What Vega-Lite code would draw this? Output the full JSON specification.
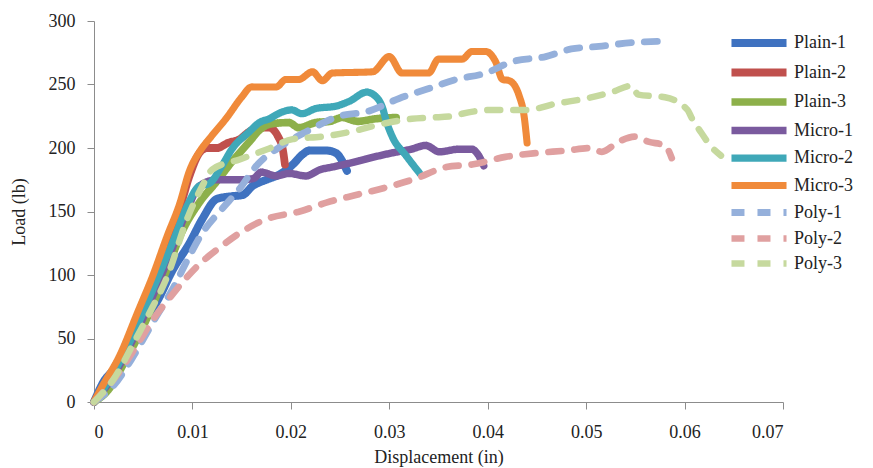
{
  "$schema": "https://vega.github.io/schema/vega-lite/v6.json",
  "autosize": "none",
  "width": 689,
  "height": 381,
  "padding": {"left": 94, "top": 21, "right": 90, "bottom": 66},
  "background": "white",
  "config": {
    "font": "Liberation Serif",
    "view": {"stroke": null},
    "axis": {
      "grid": false,
      "domainColor": "#8c8c8c",
      "tickColor": "#8c8c8c",
      "tickSize": 7,
      "labelFont": "Liberation Serif",
      "labelFontSize": 18,
      "labelColor": "#222222",
      "titleFont": "Liberation Serif",
      "titleFontSize": 18,
      "titleFontWeight": "normal",
      "titleColor": "#222222"
    },
    "legend": {
      "labelFont": "Liberation Serif",
      "labelFontSize": 18,
      "labelColor": "#222222"
    }
  },
  "data": {
    "values": [
      {"s": "Plain-1", "x": 0, "y": 0},
      {"s": "Plain-1", "x": 0.0009, "y": 15},
      {"s": "Plain-1", "x": 0.0023, "y": 29},
      {"s": "Plain-1", "x": 0.0033, "y": 45},
      {"s": "Plain-1", "x": 0.0044, "y": 57},
      {"s": "Plain-1", "x": 0.0064, "y": 79},
      {"s": "Plain-1", "x": 0.008, "y": 104},
      {"s": "Plain-1", "x": 0.0097, "y": 125},
      {"s": "Plain-1", "x": 0.011, "y": 144},
      {"s": "Plain-1", "x": 0.0125, "y": 160},
      {"s": "Plain-1", "x": 0.014, "y": 162},
      {"s": "Plain-1", "x": 0.0151, "y": 163},
      {"s": "Plain-1", "x": 0.0161, "y": 170},
      {"s": "Plain-1", "x": 0.0175, "y": 175},
      {"s": "Plain-1", "x": 0.0188, "y": 179},
      {"s": "Plain-1", "x": 0.0202, "y": 187},
      {"s": "Plain-1", "x": 0.0212, "y": 195},
      {"s": "Plain-1", "x": 0.0219, "y": 198},
      {"s": "Plain-1", "x": 0.0236, "y": 198},
      {"s": "Plain-1", "x": 0.0246, "y": 196},
      {"s": "Plain-1", "x": 0.0252, "y": 190},
      {"s": "Plain-1", "x": 0.0257, "y": 182},

      {"s": "Plain-2", "x": 0, "y": 0},
      {"s": "Plain-2", "x": 0.0006, "y": 8},
      {"s": "Plain-2", "x": 0.0027, "y": 36},
      {"s": "Plain-2", "x": 0.0044, "y": 66},
      {"s": "Plain-2", "x": 0.006, "y": 96},
      {"s": "Plain-2", "x": 0.0074, "y": 126},
      {"s": "Plain-2", "x": 0.0087, "y": 152},
      {"s": "Plain-2", "x": 0.0097, "y": 178},
      {"s": "Plain-2", "x": 0.0108, "y": 197},
      {"s": "Plain-2", "x": 0.0115, "y": 200},
      {"s": "Plain-2", "x": 0.0125, "y": 200},
      {"s": "Plain-2", "x": 0.0136, "y": 204},
      {"s": "Plain-2", "x": 0.0148, "y": 207},
      {"s": "Plain-2", "x": 0.0158, "y": 213},
      {"s": "Plain-2", "x": 0.0168, "y": 216},
      {"s": "Plain-2", "x": 0.0178, "y": 216},
      {"s": "Plain-2", "x": 0.0187, "y": 209},
      {"s": "Plain-2", "x": 0.0192, "y": 198},
      {"s": "Plain-2", "x": 0.0194, "y": 187},

      {"s": "Plain-3", "x": 0, "y": 0},
      {"s": "Plain-3", "x": 0.0015, "y": 10},
      {"s": "Plain-3", "x": 0.003, "y": 30},
      {"s": "Plain-3", "x": 0.0055, "y": 68},
      {"s": "Plain-3", "x": 0.0075, "y": 106},
      {"s": "Plain-3", "x": 0.009, "y": 135},
      {"s": "Plain-3", "x": 0.0107, "y": 157},
      {"s": "Plain-3", "x": 0.0124, "y": 173},
      {"s": "Plain-3", "x": 0.014, "y": 189},
      {"s": "Plain-3", "x": 0.0158, "y": 205},
      {"s": "Plain-3", "x": 0.0168, "y": 214},
      {"s": "Plain-3", "x": 0.018, "y": 219},
      {"s": "Plain-3", "x": 0.0198, "y": 220},
      {"s": "Plain-3", "x": 0.0208, "y": 216},
      {"s": "Plain-3", "x": 0.0225, "y": 220},
      {"s": "Plain-3", "x": 0.024, "y": 221},
      {"s": "Plain-3", "x": 0.0252, "y": 224},
      {"s": "Plain-3", "x": 0.0268, "y": 221},
      {"s": "Plain-3", "x": 0.0286, "y": 223},
      {"s": "Plain-3", "x": 0.0307, "y": 224},

      {"s": "Micro-1", "x": 0, "y": 0},
      {"s": "Micro-1", "x": 0.002, "y": 21},
      {"s": "Micro-1", "x": 0.004, "y": 50},
      {"s": "Micro-1", "x": 0.006, "y": 84},
      {"s": "Micro-1", "x": 0.008, "y": 122},
      {"s": "Micro-1", "x": 0.0095, "y": 152},
      {"s": "Micro-1", "x": 0.0107, "y": 170},
      {"s": "Micro-1", "x": 0.0125, "y": 175},
      {"s": "Micro-1", "x": 0.015, "y": 175},
      {"s": "Micro-1", "x": 0.0162, "y": 176},
      {"s": "Micro-1", "x": 0.017, "y": 181},
      {"s": "Micro-1", "x": 0.0185, "y": 178},
      {"s": "Micro-1", "x": 0.0198, "y": 180},
      {"s": "Micro-1", "x": 0.0215, "y": 178},
      {"s": "Micro-1", "x": 0.023, "y": 183},
      {"s": "Micro-1", "x": 0.0242, "y": 185},
      {"s": "Micro-1", "x": 0.027, "y": 190},
      {"s": "Micro-1", "x": 0.0285, "y": 193},
      {"s": "Micro-1", "x": 0.0302, "y": 196},
      {"s": "Micro-1", "x": 0.0322, "y": 199},
      {"s": "Micro-1", "x": 0.0337, "y": 202},
      {"s": "Micro-1", "x": 0.0351, "y": 197},
      {"s": "Micro-1", "x": 0.037, "y": 199},
      {"s": "Micro-1", "x": 0.0384, "y": 199},
      {"s": "Micro-1", "x": 0.039, "y": 195},
      {"s": "Micro-1", "x": 0.0396, "y": 186},

      {"s": "Micro-2", "x": 0, "y": 0},
      {"s": "Micro-2", "x": 0.002, "y": 23},
      {"s": "Micro-2", "x": 0.004, "y": 53},
      {"s": "Micro-2", "x": 0.006, "y": 89},
      {"s": "Micro-2", "x": 0.008, "y": 126},
      {"s": "Micro-2", "x": 0.0095, "y": 155},
      {"s": "Micro-2", "x": 0.0107, "y": 170},
      {"s": "Micro-2", "x": 0.0117, "y": 172},
      {"s": "Micro-2", "x": 0.013, "y": 186},
      {"s": "Micro-2", "x": 0.014, "y": 199},
      {"s": "Micro-2", "x": 0.0158, "y": 213},
      {"s": "Micro-2", "x": 0.0168, "y": 220},
      {"s": "Micro-2", "x": 0.0178, "y": 223},
      {"s": "Micro-2", "x": 0.019, "y": 228},
      {"s": "Micro-2", "x": 0.0201, "y": 230},
      {"s": "Micro-2", "x": 0.0211, "y": 227},
      {"s": "Micro-2", "x": 0.0225, "y": 231},
      {"s": "Micro-2", "x": 0.0246, "y": 233},
      {"s": "Micro-2", "x": 0.026, "y": 237},
      {"s": "Micro-2", "x": 0.0277, "y": 244},
      {"s": "Micro-2", "x": 0.0287, "y": 240},
      {"s": "Micro-2", "x": 0.0293, "y": 232},
      {"s": "Micro-2", "x": 0.0297, "y": 221},
      {"s": "Micro-2", "x": 0.0303, "y": 209},
      {"s": "Micro-2", "x": 0.0317, "y": 194},
      {"s": "Micro-2", "x": 0.0331, "y": 180},

      {"s": "Micro-3", "x": 0, "y": 0},
      {"s": "Micro-3", "x": 0.0006, "y": 9},
      {"s": "Micro-3", "x": 0.0027, "y": 38},
      {"s": "Micro-3", "x": 0.0044, "y": 70},
      {"s": "Micro-3", "x": 0.006, "y": 100},
      {"s": "Micro-3", "x": 0.0074, "y": 130},
      {"s": "Micro-3", "x": 0.0087, "y": 156},
      {"s": "Micro-3", "x": 0.0097, "y": 182},
      {"s": "Micro-3", "x": 0.0108, "y": 198},
      {"s": "Micro-3", "x": 0.0118, "y": 208},
      {"s": "Micro-3", "x": 0.0135, "y": 224},
      {"s": "Micro-3", "x": 0.015, "y": 240},
      {"s": "Micro-3", "x": 0.016, "y": 248},
      {"s": "Micro-3", "x": 0.0185, "y": 248},
      {"s": "Micro-3", "x": 0.0195, "y": 254},
      {"s": "Micro-3", "x": 0.0208, "y": 254},
      {"s": "Micro-3", "x": 0.0222, "y": 260},
      {"s": "Micro-3", "x": 0.0232, "y": 253},
      {"s": "Micro-3", "x": 0.0242, "y": 259},
      {"s": "Micro-3", "x": 0.0283, "y": 260},
      {"s": "Micro-3", "x": 0.03, "y": 272},
      {"s": "Micro-3", "x": 0.0313, "y": 259},
      {"s": "Micro-3", "x": 0.034, "y": 259},
      {"s": "Micro-3", "x": 0.035, "y": 270},
      {"s": "Micro-3", "x": 0.0374, "y": 270},
      {"s": "Micro-3", "x": 0.0384, "y": 276},
      {"s": "Micro-3", "x": 0.0398, "y": 276},
      {"s": "Micro-3", "x": 0.0408, "y": 268},
      {"s": "Micro-3", "x": 0.0415, "y": 254},
      {"s": "Micro-3", "x": 0.0422, "y": 253},
      {"s": "Micro-3", "x": 0.0432, "y": 241},
      {"s": "Micro-3", "x": 0.0437, "y": 225},
      {"s": "Micro-3", "x": 0.044, "y": 204},

      {"s": "Poly-1", "x": 0, "y": 0},
      {"s": "Poly-1", "x": 0.002, "y": 13},
      {"s": "Poly-1", "x": 0.004, "y": 36},
      {"s": "Poly-1", "x": 0.006, "y": 63},
      {"s": "Poly-1", "x": 0.008, "y": 89},
      {"s": "Poly-1", "x": 0.0095, "y": 112},
      {"s": "Poly-1", "x": 0.011, "y": 133},
      {"s": "Poly-1", "x": 0.013, "y": 152},
      {"s": "Poly-1", "x": 0.0148, "y": 168},
      {"s": "Poly-1", "x": 0.0165, "y": 186},
      {"s": "Poly-1", "x": 0.0191, "y": 202},
      {"s": "Poly-1", "x": 0.0216, "y": 213},
      {"s": "Poly-1", "x": 0.0249, "y": 225},
      {"s": "Poly-1", "x": 0.0279, "y": 229},
      {"s": "Poly-1", "x": 0.031, "y": 239},
      {"s": "Poly-1", "x": 0.0337, "y": 246},
      {"s": "Poly-1", "x": 0.0368, "y": 254},
      {"s": "Poly-1", "x": 0.0398, "y": 259},
      {"s": "Poly-1", "x": 0.0425, "y": 268},
      {"s": "Poly-1", "x": 0.0459, "y": 272},
      {"s": "Poly-1", "x": 0.0485, "y": 278},
      {"s": "Poly-1", "x": 0.0513, "y": 280},
      {"s": "Poly-1", "x": 0.0546, "y": 283},
      {"s": "Poly-1", "x": 0.0575, "y": 284},

      {"s": "Poly-2", "x": 0, "y": 0},
      {"s": "Poly-2", "x": 0.0006, "y": 5},
      {"s": "Poly-2", "x": 0.0026, "y": 24},
      {"s": "Poly-2", "x": 0.0043, "y": 44},
      {"s": "Poly-2", "x": 0.006, "y": 65},
      {"s": "Poly-2", "x": 0.008, "y": 85},
      {"s": "Poly-2", "x": 0.0105, "y": 107},
      {"s": "Poly-2", "x": 0.0125, "y": 120},
      {"s": "Poly-2", "x": 0.015, "y": 134},
      {"s": "Poly-2", "x": 0.0175, "y": 144},
      {"s": "Poly-2", "x": 0.0209, "y": 150},
      {"s": "Poly-2", "x": 0.0236, "y": 157},
      {"s": "Poly-2", "x": 0.0266, "y": 163},
      {"s": "Poly-2", "x": 0.0297, "y": 169},
      {"s": "Poly-2", "x": 0.0327, "y": 176},
      {"s": "Poly-2", "x": 0.0358, "y": 185},
      {"s": "Poly-2", "x": 0.0384, "y": 187},
      {"s": "Poly-2", "x": 0.0418, "y": 193},
      {"s": "Poly-2", "x": 0.0449, "y": 196},
      {"s": "Poly-2", "x": 0.048, "y": 198},
      {"s": "Poly-2", "x": 0.0505, "y": 200},
      {"s": "Poly-2", "x": 0.0516, "y": 197},
      {"s": "Poly-2", "x": 0.0533, "y": 205},
      {"s": "Poly-2", "x": 0.055, "y": 209},
      {"s": "Poly-2", "x": 0.0563, "y": 205},
      {"s": "Poly-2", "x": 0.058, "y": 202},
      {"s": "Poly-2", "x": 0.0587, "y": 192},

      {"s": "Poly-3", "x": 0, "y": 0},
      {"s": "Poly-3", "x": 0.002, "y": 18},
      {"s": "Poly-3", "x": 0.004, "y": 46},
      {"s": "Poly-3", "x": 0.0055, "y": 68},
      {"s": "Poly-3", "x": 0.0075, "y": 100},
      {"s": "Poly-3", "x": 0.0095, "y": 145},
      {"s": "Poly-3", "x": 0.011, "y": 170},
      {"s": "Poly-3", "x": 0.012, "y": 183},
      {"s": "Poly-3", "x": 0.0148, "y": 191},
      {"s": "Poly-3", "x": 0.0176, "y": 199},
      {"s": "Poly-3", "x": 0.0202, "y": 207},
      {"s": "Poly-3", "x": 0.0232, "y": 209},
      {"s": "Poly-3", "x": 0.0262, "y": 213},
      {"s": "Poly-3", "x": 0.0293, "y": 219},
      {"s": "Poly-3", "x": 0.0323, "y": 223},
      {"s": "Poly-3", "x": 0.0343, "y": 224},
      {"s": "Poly-3", "x": 0.0364, "y": 225},
      {"s": "Poly-3", "x": 0.0374, "y": 227},
      {"s": "Poly-3", "x": 0.0404, "y": 230},
      {"s": "Poly-3", "x": 0.0439, "y": 230},
      {"s": "Poly-3", "x": 0.047, "y": 235},
      {"s": "Poly-3", "x": 0.05, "y": 239},
      {"s": "Poly-3", "x": 0.0526, "y": 244},
      {"s": "Poly-3", "x": 0.0546, "y": 249},
      {"s": "Poly-3", "x": 0.0553, "y": 242},
      {"s": "Poly-3", "x": 0.058, "y": 240},
      {"s": "Poly-3", "x": 0.0603, "y": 230},
      {"s": "Poly-3", "x": 0.0607, "y": 224},
      {"s": "Poly-3", "x": 0.0617, "y": 212},
      {"s": "Poly-3", "x": 0.0626, "y": 202},
      {"s": "Poly-3", "x": 0.0637, "y": 194}
    ]
  },
  "mark": {"type": "line", "strokeCap": "round", "strokeJoin": "round", "interpolate": "monotone"},
  "encoding": {
    "x": {
      "field": "x", "type": "quantitative",
      "scale": {"domain": [0, 0.07], "nice": false},
      "axis": {"values": [0, 0.01, 0.02, 0.03, 0.04, 0.05, 0.06, 0.07], "format": ".2~f", "title": "Displacement (in)", "labelPadding": 14, "titlePadding": 7}
    },
    "y": {
      "field": "y", "type": "quantitative",
      "scale": {"domain": [0, 300], "nice": false},
      "axis": {"values": [0, 50, 100, 150, 200, 250, 300], "title": "Load (lb)", "labelPadding": 12, "titlePadding": 20}
    },
    "color": {
      "field": "s", "type": "nominal",
      "scale": {
        "domain": ["Plain-1", "Plain-2", "Plain-3", "Micro-1", "Micro-2", "Micro-3", "Poly-1", "Poly-2", "Poly-3"],
        "range": ["#3f72c0", "#c0504d", "#8db04a", "#7a5a9e", "#3fa8b8", "#f08a3a", "#95b0db", "#e0a0a0", "#c6d99e"]
      },
      "legend": {
        "title": null,
        "orient": "none",
        "legendX": 653,
        "legendY": 10,
        "symbolType": "M-3.44,0H3.44",
        "symbolSize": 256,
        "rowPadding": -2.5,
        "labelOffset": 23,
        "padding": 0
      }
    },
    "strokeDash": {
      "field": "s", "type": "nominal",
      "scale": {
        "domain": ["Plain-1", "Plain-2", "Plain-3", "Micro-1", "Micro-2", "Micro-3", "Poly-1", "Poly-2", "Poly-3"],
        "range": [[1, 0], [1, 0], [1, 0], [1, 0], [1, 0], [1, 0], [13, 13], [13, 13], [13, 13]]
      }
    },
    "strokeWidth": {
      "field": "s", "type": "nominal",
      "scale": {
        "domain": ["Plain-1", "Plain-2", "Plain-3", "Micro-1", "Micro-2", "Micro-3", "Poly-1", "Poly-2", "Poly-3"],
        "range": [8, 6.5, 6.5, 3, 3, 3, 3.5, 3.5, 3.5]
      }
    }
  }
}
